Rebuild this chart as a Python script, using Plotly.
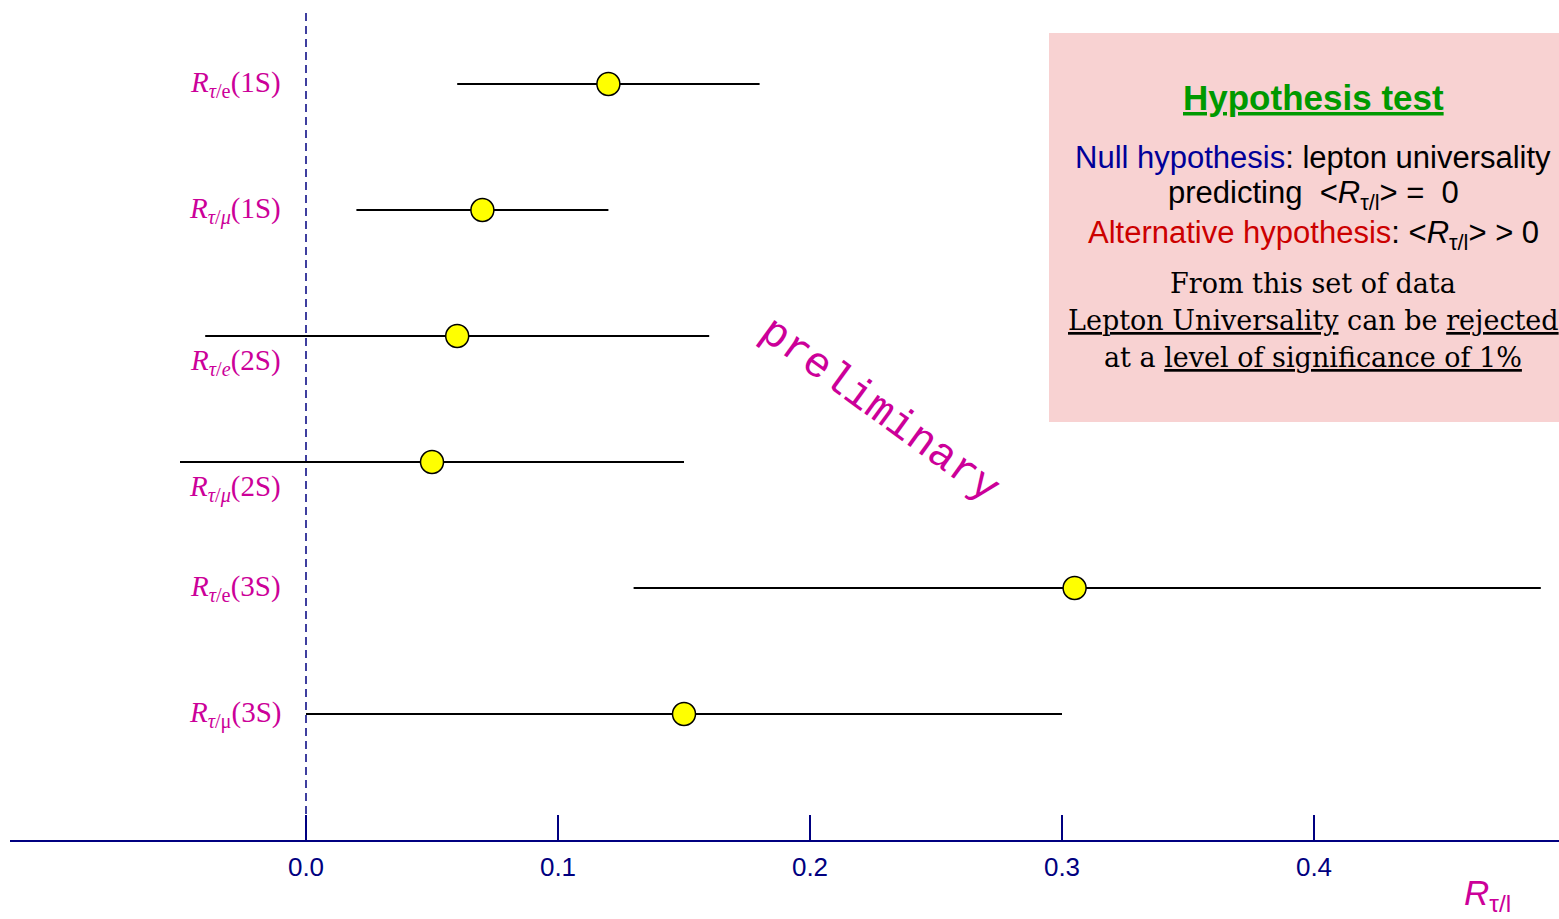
import plotly.graph_objects as go

# Measured ratios with their lower / upper limits, one row per resonance
labels = [
    "<i>R</i><sub><i>τ</i>/e</sub>(1S)",
    "<i>R</i><sub><i>τ</i>/<i>μ</i></sub>(1S)",
    "<i>R</i><sub><i>τ</i>/<i>e</i></sub>(2S)",
    "<i>R</i><sub><i>τ</i>/<i>μ</i></sub>(2S)",
    "<i>R</i><sub><i>τ</i>/e</sub>(3S)",
    "<i>R</i><sub><i>τ</i>/μ</sub>(3S)",
]
centre = [0.12, 0.07, 0.06, 0.05, 0.305, 0.15]
lower = [0.06, 0.02, -0.04, -0.05, 0.13, 0.0]
upper = [0.18, 0.12, 0.16, 0.15, 0.49, 0.30]
rows = [6, 5, 4, 3, 2, 1]
label_below = [False, False, True, True, False, False]

tick_vals = [0.0, 0.1, 0.2, 0.3, 0.4]
tick_text = ["0.0", "0.1", "0.2", "0.3", "0.4"]

NAVY = "#000080"
MAGENTA = "#CC0099"

W, H = 1559, 919
ML, MR, MT, MB = 10, 0, 0, 79
PW, PH = W - ML - MR, H - MT - MB


def px(xp):
    return (xp - ML) / PW


def py(yp):
    return (MT + PH - yp) / PH


fig = go.Figure()

fig.add_trace(go.Scatter(
    x=centre,
    y=rows,
    mode="markers",
    marker=dict(size=23, color="#FFFF00", line=dict(color="black", width=1.5)),
    error_x=dict(
        type="data",
        symmetric=False,
        array=[u - c for u, c in zip(upper, centre)],
        arrayminus=[c - l for c, l in zip(centre, lower)],
        color="black",
        thickness=1.8,
        width=0,
    ),
    showlegend=False,
    hoverinfo="skip",
))

# Row labels on the left of the zero line
for lab, r, below in zip(labels, rows, label_below):
    fig.add_annotation(
        x=-0.009, y=r, xref="x", yref="y",
        text=lab, showarrow=False,
        xanchor="right", yanchor="middle",
        yshift=-26 if below else 0,
        font=dict(family="Liberation Serif", size=29, color=MAGENTA),
    )

shapes = [
    # vertical dashed reference at zero
    dict(type="line", xref="x", yref="paper", x0=0, x1=0, y0=0, y1=py(8),
         line=dict(color=NAVY, width=1.5, dash="8px,5px"), layer="below"),
    # hypothesis panel
    dict(type="rect", xref="paper", yref="paper",
         x0=px(1049), x1=1.0, y0=py(422), y1=py(33),
         fillcolor="#F8D2D2", line=dict(width=0), layer="below"),
]

sans = "Liberation Sans"
serif = "DejaVu Serif"
cx = px(1313)
rtl = "<i>R</i><sub>τ/l</sub>"
panel = [
    ("<b><u>Hypothesis test</u></b>", 97, sans, 35, "#009900"),
    ("<span style='color:#000099'>Null hypothesis</span>: lepton universality", 157, sans, 31, "black"),
    ("predicting  &lt;" + rtl + "&gt; =  0", 195, sans, 31, "black"),
    ("<span style='color:#CC0000'>Alternative hypothesis</span>: &lt;" + rtl + "&gt; &gt; 0", 235, sans, 31, "black"),
    ("From this set of data", 283, serif, 27, "black"),
    ("<u>Lepton Universality</u> can be <u>rejected</u>", 320, serif, 27, "black"),
    ("at a <u>level of significance of 1%</u>", 357, serif, 27, "black"),
]
for txt, yp, fam, size, col in panel:
    fig.add_annotation(
        x=cx, y=py(yp), xref="paper", yref="paper",
        text=txt, showarrow=False, xanchor="center", yanchor="middle",
        font=dict(family=fam, size=size, color=col),
    )

# Diagonal watermark
fig.add_annotation(
    x=px(880), y=py(410), xref="paper", yref="paper",
    text="preliminary", showarrow=False, textangle=36,
    font=dict(family="Courier New, Nimbus Mono PS, FreeMono, Liberation Mono",
              size=43, color=MAGENTA),
)

# Axis title
fig.add_annotation(
    x=px(1487), y=py(895), xref="paper", yref="paper",
    text=rtl, showarrow=False, xanchor="center", yanchor="middle",
    font=dict(family=sans, size=35, color=MAGENTA),
)

fig.update_layout(
    width=W, height=H,
    margin=dict(l=ML, r=MR, t=MT, b=MB),
    paper_bgcolor="white", plot_bgcolor="white",
    shapes=shapes,
    xaxis=dict(
        range=[(ML - 306) / 2520, (W - 306) / 2520],
        showgrid=False, zeroline=False,
        showline=True, linecolor=NAVY, linewidth=2,
        ticks="inside", ticklen=25, tickwidth=2, tickcolor=NAVY,
        tickvals=tick_vals, ticktext=tick_text,
        tickfont=dict(family=sans, size=26, color=NAVY),
        ticklabelstandoff=3,
        fixedrange=True,
    ),
    yaxis=dict(
        range=[0, PH / 126],
        visible=False, showgrid=False, zeroline=False, fixedrange=True,
    ),
)

fig.write_html("out.html")
